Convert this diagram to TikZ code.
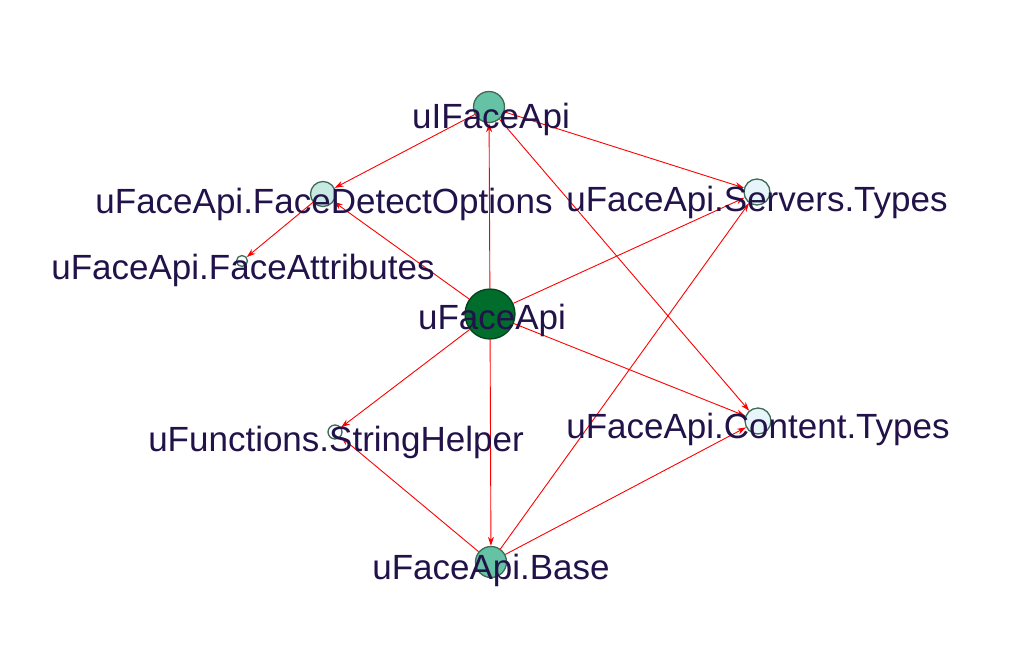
\documentclass[tikz,border=0pt]{standalone}
\usepackage{fontspec}
\setmainfont{Liberation Sans}
\usetikzlibrary{arrows.meta}
\definecolor{darkgr}{HTML}{006D2C}
\definecolor{darkgrline}{HTML}{00441B}
\definecolor{midgr}{HTML}{66C2A4}
\definecolor{lightgr}{HTML}{C7E9E2}
\definecolor{palegr}{HTML}{E5F5F9}
\definecolor{whitegr}{HTML}{F7FCFD}
\definecolor{ringgr}{HTML}{3F6A58}
\definecolor{labelcol}{HTML}{22124A}
\begin{document}
\begin{tikzpicture}[
    x=1pt, y=-1pt,
    vertex/.style={circle, draw=ringgr, line width=1.3pt, inner sep=0pt},
    lbl/.style={anchor=base, text=labelcol, inner sep=0pt, font=\fontsize{35}{42}\selectfont},
    dep/.style={->, red, line width=0.9pt},
    >={Stealth[length=9pt,width=6pt]}
]
\useasboundingbox (0,0) rectangle (1025,667);
% vertici
\node[vertex, fill=darkgr, draw=darkgrline, minimum size=50pt] (main) at (490,314) {};
\node[vertex, fill=midgr, minimum size=31pt] (iface) at (489,107) {};
\node[vertex, fill=midgr, minimum size=31pt] (base) at (491,562) {};
\node[vertex, fill=lightgr, minimum size=25pt] (detect) at (323,194) {};
\node[vertex, fill=palegr, minimum size=26pt] (servers) at (757,192) {};
\node[vertex, fill=palegr, minimum size=26pt] (content) at (758,421) {};
\node[vertex, fill=whitegr, minimum size=11pt] (attrib) at (242,261) {};
\node[vertex, fill=whitegr, minimum size=14pt] (strhelp) at (335,432) {};

% dipendenze
\draw[dep] (main) -- (iface);
\draw[dep] (iface) -- (detect);
\draw[dep] (iface) -- (servers);
\draw[dep] (iface) -- (content);
\draw[dep] (detect) -- (attrib);
\draw[dep] (main) -- (detect);
\draw[dep] (main) -- (servers);
\draw[dep] (main) -- (content);
\draw[dep] (main) -- (strhelp);
\draw[dep] (main) -- (base);
\draw[dep] (base) -- (strhelp);
\draw[dep] (base) -- (servers);
\draw[dep] (base) -- (content);

% etichette
\node[lbl] (l-iface) at (491,128) {uIFaceApi};
\node[lbl] (l-detect) at (324,213) {uFaceApi.FaceDetectOptions};
\node[lbl] (l-servers) at (757,211) {uFaceApi.Servers.Types};
\node[lbl] (l-attrib) at (243,279) {uFaceApi.FaceAttributes};
\node[lbl] (l-main) at (492,329) {uFaceApi};
\node[lbl] (l-strhelp) at (336,451) {uFunctions.StringHelper};
\node[lbl] (l-content) at (758,438) {uFaceApi.Content.Types};
\node[lbl] (l-base) at (491,579) {uFaceApi.Base};
\end{tikzpicture}
\end{document}
